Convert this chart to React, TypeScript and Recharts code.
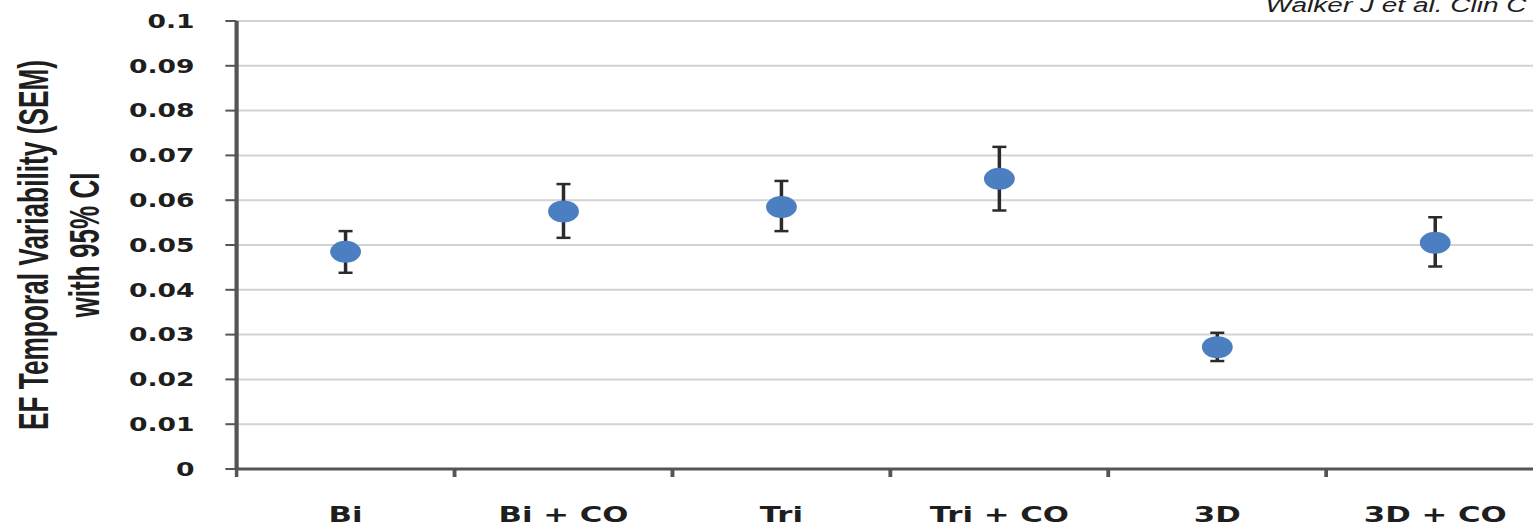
import {
    ScatterChart,
    Scatter,
    XAxis,
    YAxis,
    CartesianGrid,
    ErrorBar,
} from 'recharts';

const categories = ['Bi', 'Bi + CO', 'Tri', 'Tri + CO', '3D', '3D + CO'];
const means = [0.0485, 0.0575, 0.0585, 0.0648, 0.0272, 0.0505];
const lower = [0.0438, 0.0516, 0.0531, 0.0577, 0.0241, 0.0452];
const upper = [0.0531, 0.0636, 0.0643, 0.0719, 0.0304, 0.0562];
const yTicks = [0, 0.01, 0.02, 0.03, 0.04, 0.05, 0.06, 0.07, 0.08, 0.09, 0.1];

// the source image is stretched sideways, so the chart is drawn narrow and scaled
const SX = 1.4;
const CHART_W = 1120;
const CHART_H = 529;
const AXIS = '#555';

const data = categories.map((name, i) => ({
    name,
    x: i + 0.5,
    y: means[i],
    err: [means[i] - lower[i], upper[i] - means[i]],
}));

const XTick = (props: any) => {
    const { x, y, payload, width } = props;
    const half = (typeof width === 'number' && width > 0 ? width : 934) / categories.length / 2;
    const label = categories[Math.round(payload.value - 0.5)];
    return (
        <g>
            <line x1={x - half} x2={x - half} y1={y} y2={y + 8} stroke={AXIS} strokeWidth={2.5} />
            <line x1={x + half} x2={x + half} y1={y} y2={y + 8} stroke={AXIS} strokeWidth={2.5} />
            <text
                x={x}
                y={y + 53}
                textAnchor="middle"
                fill="#1e1e1e"
                style={{ fontFamily: 'DejaVu Sans', fontWeight: 700, fontSize: 22 }}
            >
                {label}
            </text>
        </g>
    );
};

const YTitle = (props: any) => {
    const vb = props.viewBox || { x: 69, y: 21, width: 100, height: 448 };
    const cy = vb.y + vb.height / 2;
    const font = { fontFamily: '"Liberation Sans"', fontWeight: 700, fontSize: 30 };
    // narrow title font, squeezed along its length
    return (
        <g fill="#1e1e1e">
            <text
                x={vb.x - 35}
                y={cy}
                textAnchor="middle"
                textLength={370}
                lengthAdjust="spacingAndGlyphs"
                transform={`rotate(-90, ${vb.x - 35}, ${cy})`}
                style={font}
            >
                EF Temporal  Variability (SEM)
            </text>
            <text
                x={vb.x + 2}
                y={cy}
                textAnchor="middle"
                textLength={145}
                lengthAdjust="spacingAndGlyphs"
                transform={`rotate(-90, ${vb.x + 2}, ${cy})`}
                style={font}
            >
                with 95% CI
            </text>
        </g>
    );
};

export default function App() {
    return (
        <div style={{ position: 'absolute', left: 0, top: 0, width: 1533, height: CHART_H, overflow: 'hidden', background: 'white' }}>
            <div style={{ position: 'relative', width: CHART_W, height: CHART_H, transform: `scaleX(${SX})`, transformOrigin: '0 0' }}>
                <div
                    style={{
                        position: 'absolute',
                        left: 904,
                        top: -6,
                        fontFamily: '"Liberation Sans"',
                        fontStyle: 'italic',
                        fontSize: 20,
                        lineHeight: '22px',
                        whiteSpace: 'nowrap',
                        color: '#1e1e1e',
                    }}
                >
                    Walker J et al. Clin C
                </div>
                <ScatterChart
                    width={CHART_W}
                    height={CHART_H}
                    margin={{ top: 21, right: 17, bottom: 10, left: 69 }}
                >
                    <CartesianGrid vertical={false} stroke="#d3d3d3" strokeWidth={2} />
                    <XAxis
                        type="number"
                        dataKey="x"
                        domain={[0, categories.length]}
                        ticks={data.map((d) => d.x)}
                        axisLine={{ stroke: AXIS, strokeWidth: 3 }}
                        tickLine={false}
                        tickSize={0}
                        tickMargin={0}
                        height={50}
                        tick={<XTick />}
                        interval={0}
                    />
                    <YAxis
                        type="number"
                        dataKey="y"
                        domain={[0, 0.1]}
                        ticks={yTicks}
                        interval={0}
                        width={100}
                        axisLine={{ stroke: AXIS, strokeWidth: 3 }}
                        tickLine={{ stroke: AXIS, strokeWidth: 2 }}
                        tickSize={8}
                        tickMargin={22}
                        tickFormatter={(v: number) => String(+v.toFixed(2))}
                        tick={{ fill: '#1e1e1e', fontFamily: 'DejaVu Sans', fontWeight: 700, fontSize: 19 }}
                        label={{ content: <YTitle /> }}
                    />
                    <Scatter
                        data={data}
                        isAnimationActive={false}
                        shape={(p: any) => <circle cx={p.cx} cy={p.cy} r={11} fill="#4b7fc2" />}
                    >
                        <ErrorBar dataKey="err" direction="y" width={5} stroke="#2b2b2b" strokeWidth={2.5} />
                    </Scatter>
                </ScatterChart>
            </div>
        </div>
    );
}
